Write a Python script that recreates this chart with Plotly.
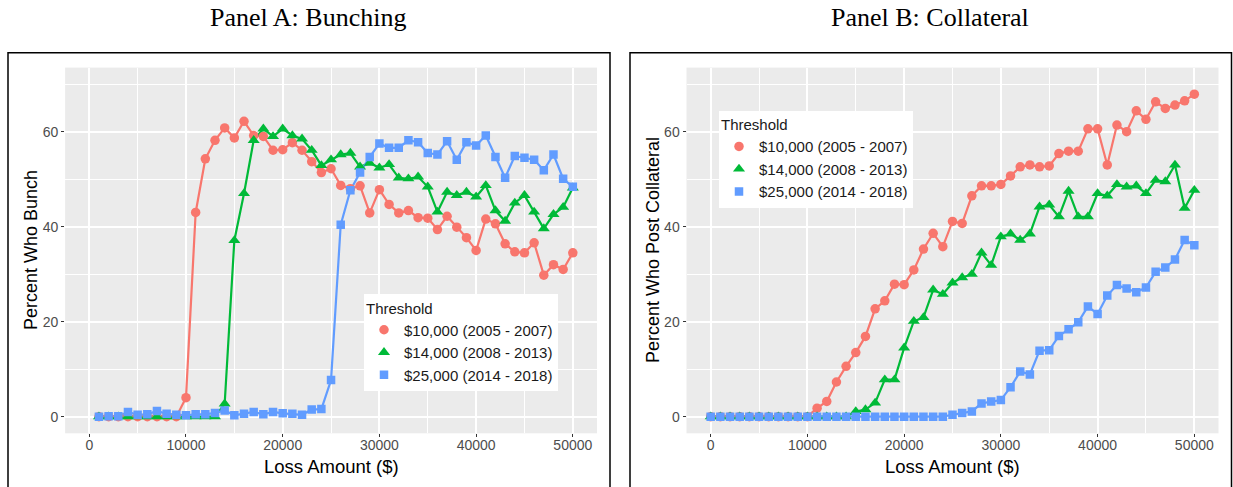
import plotly.graph_objects as go

W, H = 1233, 487

# Loss amounts (x) for each panel
loss_a = list(range(1000, 50001, 1000))
loss_b = list(range(0, 50001, 1000))

# Panel A: percent who bunch, by threshold regime
bunch_10k = [0, 0, 0, 0, 0, 0, 0, 0, 0,
             4.0, 43.0, 54.3, 58.2, 60.8, 58.7, 62.2, 59.2, 59.0, 56.1,
             56.2, 57.7, 56.1, 53.7, 51.4, 52.2, 48.7, 48.0, 48.6, 42.9,
             47.8, 44.7, 42.9, 43.4, 41.9, 41.8, 39.4, 42.2, 39.9, 37.7,
             35.0, 41.6, 40.6, 36.4, 34.7, 34.5, 36.6, 29.8, 32.0, 31.0,
             34.5]
bunch_14k = [0, 0, 0, 0, 0, 0, 0, 0, 0, 0, 0, 0, 0,
             2.7, 37.1, 47.0, 58.2, 60.6, 59.0, 60.6, 59.2, 58.5, 56.1,
             52.9, 54.1, 55.2, 55.5, 52.6, 53.4, 52.4, 53.1, 50.3, 50.1,
             50.5, 48.4, 43.1, 47.3, 46.6, 47.3, 46.3, 48.7, 43.4, 41.2,
             45.0, 46.6, 43.1, 39.6, 42.6, 44.1, 48.2]
bunch_25k = [0.0, 0.1, 0.1, 1.0, 0.4, 0.5, 1.2, 0.6, 0.4, 0.3,
             0.5, 0.5, 0.8, 1.3, 0.3, 0.6, 1.0, 0.5, 1.0, 0.7,
             0.6, 0.4, 1.5, 1.6, 7.7, 40.4, 47.7, 51.4, 54.7, 57.5,
             56.6, 56.6, 58.2, 57.8, 55.5, 55.2, 58.0, 54.1, 57.8, 57.1,
             59.2, 54.7, 50.3, 54.9, 54.5, 54.1, 51.9, 55.2, 50.1, 48.4]

# Panel B: percent who post collateral, by threshold regime
coll_10k = [0, 0, 0, 0, 0, 0, 0, 0, 0, 0, 0,
            1.8, 3.2, 7.3, 10.6, 13.5, 16.9, 22.7, 24.4, 27.9, 27.8,
            30.9, 35.3, 38.6, 35.8, 41.1, 40.7, 46.5, 48.6, 48.6, 48.9,
            50.7, 52.6, 53.0, 52.6, 52.8, 55.4, 55.9, 55.9, 60.6, 60.6,
            53.0, 61.4, 60.0, 64.4, 62.6, 66.3, 64.9, 65.6, 66.5, 67.9]
coll_14k = [0, 0, 0, 0, 0, 0, 0, 0, 0, 0, 0, 0, 0, 0, 0,
            1.1, 1.5, 2.9, 7.8, 7.8, 14.5, 20.1, 20.9, 26.7, 25.8,
            28.2, 29.3, 30.0, 34.5, 31.9, 37.9, 38.5, 37.2, 38.5, 44.2,
            44.6, 42.1, 47.5, 42.1, 42.1, 47.0, 46.5, 48.9, 48.4, 48.6,
            47.0, 49.8, 49.5, 53.0, 43.9, 47.7]
coll_25k = [0, 0, 0, 0, 0, 0, 0, 0, 0, 0, 0, 0, 0, 0, 0, 0, 0, 0, 0, 0,
            0, 0, 0, 0, 0,
            0.4, 0.8, 1.1, 2.8, 3.2, 3.5, 6.2, 9.5, 8.9, 13.9,
            14.0, 17.0, 18.4, 19.9, 23.2, 21.6, 25.5, 27.7, 27.0, 26.2,
            27.2, 30.5, 31.4, 33.1, 37.2, 36.1]

series_names = ["$10,000 (2005 - 2007)", "$14,000 (2008 - 2013)", "$25,000 (2014 - 2018)"]
colors = ["#F8766D", "#00BA38", "#619CFF"]
symbols = ["circle", "triangle-up", "square"]
marker_sizes = [9.5, 10.5, 8.5]

x_ticks = [0, 10000, 20000, 30000, 40000, 50000]
y_ticks = [0, 20, 40, 60]

SANS = "Liberation Sans, Arial, sans-serif"

panels = [
    dict(x=loss_a, ys=[bunch_10k, bunch_14k, bunch_25k], xa="x", ya="y", legend="legend"),
    dict(x=loss_b, ys=[coll_10k, coll_14k, coll_25k], xa="x2", ya="y2", legend="legend2"),
]

fig = go.Figure()

# lines first, points on top (as in layered line + point plots)
for p in panels:
    for ys, col in zip(p["ys"], colors):
        fig.add_trace(go.Scatter(
            x=p["x"], y=ys, mode="lines", xaxis=p["xa"], yaxis=p["ya"],
            line=dict(color=col, width=2.2), showlegend=False, hoverinfo="skip"))
for p in panels:
    for ys, name, col, sym, sz in zip(p["ys"], series_names, colors, symbols, marker_sizes):
        fig.add_trace(go.Scatter(
            x=p["x"], y=ys, mode="markers", name=name, xaxis=p["xa"], yaxis=p["ya"],
            marker=dict(color=col, symbol=sym, size=sz, line=dict(width=0)),
            legend=p["legend"]))

xdom_a = [65.1 / W, 597.0 / W]
xdom_b = [686.5 / W, 1218.5 / W]
ydom = [1 - 433.3 / H, 1 - 67.6 / H]

def xaxis_cfg(domain, anchor):
    return dict(
        domain=domain, anchor=anchor, range=[-2500, 52500],
        tickmode="array", tickvals=x_ticks, ticktext=[str(v) for v in x_ticks],
        showgrid=True, gridcolor="white", gridwidth=1.5, zeroline=False, showline=False,
        ticks="outside", ticklen=3, tickwidth=1, tickcolor="#333333",
        ticklabelstandoff=-4,
        tickfont=dict(family=SANS, size=14, color="#4D4D4D"),
        minor=dict(tickmode="array", tickvals=[5000, 15000, 25000, 35000, 45000],
                   showgrid=True, gridcolor="white", gridwidth=0.7, ticks=""),
    )

def yaxis_cfg(anchor):
    return dict(
        domain=ydom, anchor=anchor, range=[-3.5, 73.5],
        tickmode="array", tickvals=y_ticks, ticktext=[str(v) for v in y_ticks],
        showgrid=True, gridcolor="white", gridwidth=1.5, zeroline=False, showline=False,
        ticks="outside", ticklen=3, tickwidth=1, tickcolor="#333333",
        tickfont=dict(family=SANS, size=14, color="#4D4D4D"),
        minor=dict(tickmode="array", tickvals=[10, 30, 50, 70],
                   showgrid=True, gridcolor="white", gridwidth=0.7, ticks=""),
    )

legend_style = dict(
    xanchor="left", yanchor="top", bgcolor="white", borderwidth=0,
    font=dict(family=SANS, size=15, color="#1A1A1A"),
    title=dict(text="Threshold", font=dict(family=SANS, size=15, color="#1A1A1A")),
    tracegroupgap=0, itemwidth=30,
)

fig.update_layout(
    width=W, height=H, margin=dict(l=0, r=0, t=0, b=0),
    paper_bgcolor="white", plot_bgcolor="#EBEBEB",
    xaxis=xaxis_cfg(xdom_a, "y"), yaxis=yaxis_cfg("x"),
    xaxis2=xaxis_cfg(xdom_b, "y2"), yaxis2=yaxis_cfg("x2"),
    legend=dict(x=364 / W, y=1 - 294 / H, **legend_style),
    legend2=dict(x=719 / W, y=1 - 110.7 / H, **legend_style),
    showlegend=True,
)

# panel frames
for x0, x1 in [(8, 610), (630, 1231.5)]:
    fig.add_shape(type="rect", xref="paper", yref="paper",
                  x0=x0 / W, x1=x1 / W, y0=-0.05, y1=1 - 52.7 / H,
                  line=dict(color="black", width=1.5), fillcolor="rgba(0,0,0,0)")

SERIF = "Liberation Serif, Times New Roman, serif"
annots = [
    dict(text="Panel A: Bunching", x=308 / W, y=1 - 17 / H, font=dict(family=SERIF, size=26, color="black")),
    dict(text="Panel B: Collateral", x=930 / W, y=1 - 17 / H, font=dict(family=SERIF, size=26, color="black")),
    dict(text="Loss Amount ($)", x=331 / W, y=1 - 466 / H, font=dict(family=SANS, size=18.5, color="black")),
    dict(text="Loss Amount ($)", x=952.5 / W, y=1 - 466 / H, font=dict(family=SANS, size=18.5, color="black")),
    dict(text="Percent Who Bunch", x=31 / W, y=1 - 250 / H, textangle=-90,
         font=dict(family=SANS, size=18, color="black")),
    dict(text="Percent Who Post Collateral", x=653 / W, y=1 - 250 / H, textangle=-90,
         font=dict(family=SANS, size=18, color="black")),
]
for a in annots:
    fig.add_annotation(xref="paper", yref="paper", showarrow=False,
                       xanchor="center", yanchor="middle", **a)

fig.write_html("out.html")
